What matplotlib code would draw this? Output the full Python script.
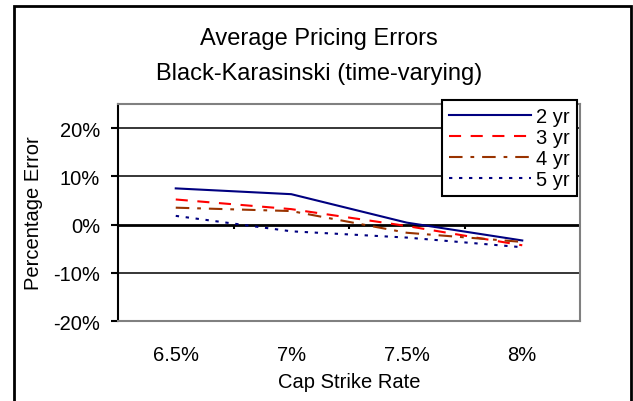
import matplotlib
matplotlib.use('Agg')
import matplotlib.pyplot as plt
from matplotlib.patches import Rectangle
from matplotlib.ticker import FuncFormatter

plt.rcParams['font.family'] = ['Liberation Sans', 'DejaVu Sans']

# data (percentage error by cap strike rate)
strikes = ['6.5%', '7%', '7.5%', '8%']
yr2 = [7.5, 6.3, 0.4, -3.3]
yr3 = [5.2, 3.2, -0.3, -4.3]
yr4 = [3.5, 2.8, -1.7, -3.6]
yr5 = [1.8, -1.4, -2.7, -4.7]
series_names = ['2 yr', '3 yr', '4 yr', '5 yr']
yticks = [-20, -10, 0, 10, 20]

W, H = 633, 402
fig = plt.figure(figsize=(W / 100, H / 100), dpi=100)
ax = fig.add_axes([118 / W, (H - 322) / H, 462 / W, 217 / H])

x = range(len(strikes))
lw = 1.5
ax.plot(x, yr2, color='#000080', lw=lw, label=series_names[0])
ax.plot(x, yr3, color='#FF0000', lw=lw, dashes=(5.8, 4.6), label=series_names[1])
ax.plot(x, yr4, color='#993300', lw=lw, dashes=(6.5, 3.8, 1.8, 3.8), label=series_names[2])
ax.plot(x, yr5, color='#000080', lw=lw, dashes=(1.6, 3.2), label=series_names[3])

ax.set_xlim(-0.5, len(strikes) - 0.5)
ax.set_ylim(-20, 25)

# gridlines + zero axis
for v in yticks:
    if v == 0:
        ax.axhline(v, color='black', lw=2.0, zorder=1)
    elif v != -20:
        ax.axhline(v, color='black', lw=1.1, zorder=1)
# category tick marks on the zero line
ax.vlines([0.5, 1.5, 2.5], 0, -1.0, color='black', lw=1.5)

ax.set_yticks(yticks)
ax.yaxis.set_major_formatter(FuncFormatter(lambda v, p: f'{v:.0f}%'))
ax.tick_params(axis='y', direction='out', length=5, width=1.5, pad=8, labelsize=14.5)
ax.set_xticks(list(x))
ax.set_xticklabels(strikes)
ax.tick_params(axis='x', length=0, pad=17, labelsize=14.5)

for s in ['top', 'right', 'bottom']:
    ax.spines[s].set_color('#808080')
    ax.spines[s].set_linewidth(1.5)
ax.spines['left'].set_color('black')
ax.spines['left'].set_linewidth(1.5)

ax.set_ylabel('Percentage Error', fontsize=14.5)
ax.yaxis.set_label_coords((34 - 118) / 462, 0.5)
ax.yaxis.label.set_va('center')
ax.set_xlabel('Cap Strike Rate', fontsize=14.5)
ax.xaxis.set_label_coords(0.5, (322 - 383) / 217)
ax.xaxis.label.set_va('center')

fig.text(319 / W, 1 - 39 / H, 'Average Pricing Errors', ha='center', va='center', fontsize=17)
fig.text(319 / W, 1 - 74 / H, 'Black-Karasinski (time-varying)', ha='center', va='center', fontsize=17)

leg = ax.legend(loc='upper right', bbox_to_anchor=(577 / W, 1 - 101 / H),
                bbox_transform=fig.transFigure, borderaxespad=0, fontsize=14.5,
                handlelength=4.1, handletextpad=0.25, labelspacing=0.1,
                borderpad=0.35, fancybox=False, framealpha=1)
leg.get_frame().set_edgecolor('black')
leg.get_frame().set_linewidth(1.5)
leg.set_zorder(5)

# outer chart border
fig.patches.append(Rectangle((14 / W, -0.05), (631 - 14) / W, 1.05 - 7 / H,
                             transform=fig.transFigure, fill=False,
                             edgecolor='black', lw=2.0))

fig.savefig('out.png', dpi=100)
